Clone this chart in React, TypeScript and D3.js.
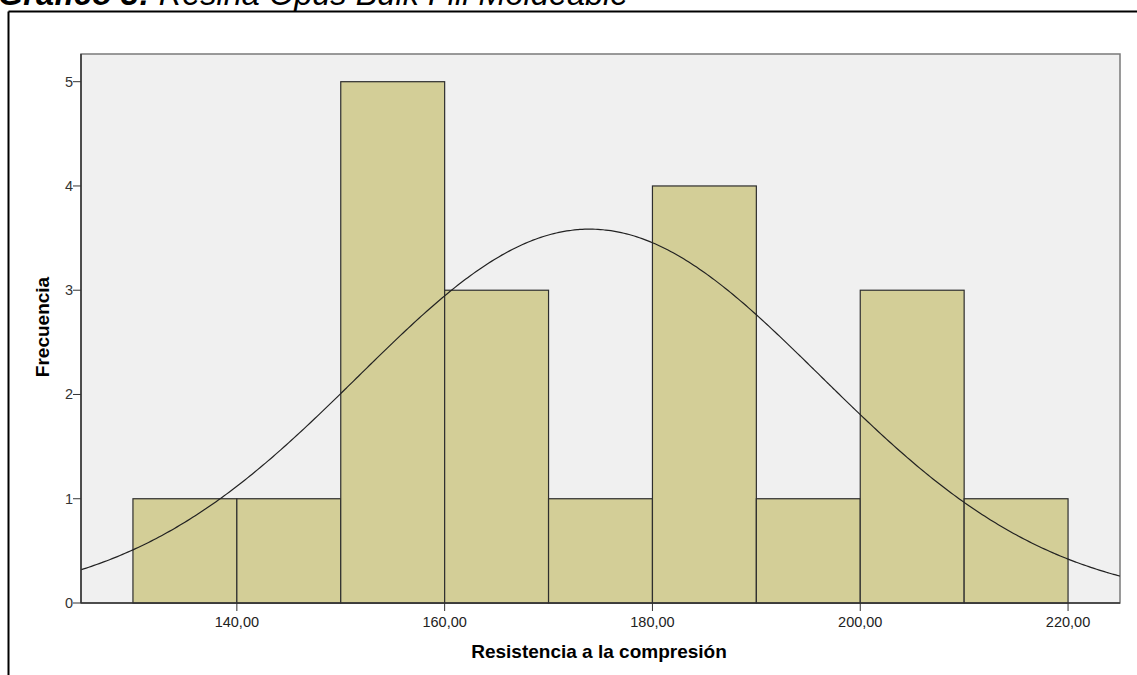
import React from "react";
import * as d3 from "d3";

const binStarts = [130, 140, 150, 160, 170, 180, 190, 200, 210];
const binWidth = 10;
const frequencies = [1, 1, 5, 3, 1, 4, 1, 3, 1];
const xTicks = [140, 160, 180, 200, 220];
const yTicks = [0, 1, 2, 3, 4, 5];
const normalMean = 173.95;
const normalSd = 22.25;
const totalN = 20;

const W = 1137;
const H = 675;
const plot = { left: 81, top: 54, right: 1120, bottom: 603 };

export default function App() {
  const x = d3.scaleLinear().domain([125, 225]).range([plot.left, plot.right]);
  const y = d3.scaleLinear().domain([0, 5]).range([plot.bottom, 81.7]);

  const curvePts: [number, number][] = [];
  for (let i = 0; i <= 400; i++) {
    const v = 125 + (i / 400) * 100;
    const dens =
      (totalN * binWidth) / (normalSd * Math.sqrt(2 * Math.PI)) *
      Math.exp(-((v - normalMean) ** 2) / (2 * normalSd * normalSd));
    curvePts.push([x(v), y(dens)]);
  }
  const line = d3.line<[number, number]>().x((d) => d[0]).y((d) => d[1]).curve(d3.curveBasis);

  const fmt = (v: number) => v.toFixed(2).replace(".", ",");

  return (
    <svg
      width={W}
      height={H}
      style={{ position: "absolute", left: 0, top: 0, background: "#fff" }}
      fontFamily="'Liberation Sans', Arial, sans-serif"
    >
      <text x={-2} y={4.5} fontSize={32.5} fontStyle="italic" fill="#000">
        <tspan fontWeight="bold">Gráfico 3:</tspan>
        <tspan> Resina Opus Bulk Fill Moldeable</tspan>
      </text>
      {/* outer frame */}
      <line x1={8.5} y1={11.5} x2={8.5} y2={H} stroke="#000" strokeWidth={2} />
      <line x1={8.5} y1={11.5} x2={W} y2={11.5} stroke="#000" strokeWidth={2} />

      {/* plot area */}
      <rect
        x={plot.left}
        y={plot.top}
        width={plot.right - plot.left}
        height={plot.bottom - plot.top}
        fill="#f0f0f0"
        stroke="#7a7a7a"
        strokeWidth={1.5}
      />
      <clipPath id="pc">
        <rect x={plot.left} y={plot.top} width={plot.right - plot.left} height={plot.bottom - plot.top} />
      </clipPath>

      {binStarts.map((b, i) => (
        <rect
          key={b}
          x={x(b)}
          y={y(frequencies[i])}
          width={x(b + binWidth) - x(b)}
          height={y(0) - y(frequencies[i])}
          fill="#d3ce97"
          stroke="#2e2e2e"
          strokeWidth={1.2}
        />
      ))}

      <path d={line(curvePts) || ""} fill="none" stroke="#222" strokeWidth={1.2} clipPath="url(#pc)" />

      {/* axes */}
      <line x1={plot.left} y1={plot.bottom} x2={plot.right} y2={plot.bottom} stroke="#333" strokeWidth={1.5} />
      <line x1={plot.left} y1={plot.top} x2={plot.left} y2={plot.bottom} stroke="#333" strokeWidth={1.5} />

      {yTicks.map((t) => (
        <g key={t}>
          <line x1={plot.left - 8} x2={plot.left} y1={y(t)} y2={y(t)} stroke="#333" strokeWidth={1} />
          <text x={plot.left - 8} y={y(t) + 5} fontSize={14.5} textAnchor="end" fill="#333">
            {t}
          </text>
        </g>
      ))}
      {xTicks.map((t) => (
        <g key={t}>
          <line x1={x(t)} x2={x(t)} y1={plot.bottom} y2={plot.bottom + 8} stroke="#333" strokeWidth={1} />
          <text x={x(t)} y={626.5} fontSize={14.5} textAnchor="middle" fill="#222">
            {fmt(t)}
          </text>
        </g>
      ))}

      <text x={599} y={658} fontSize={19} fontWeight="bold" textAnchor="middle" fill="#000">
        Resistencia a la compresión
      </text>
      <text
        transform={`translate(49,327) rotate(-90)`}
        fontSize={19}
        fontWeight="bold"
        textAnchor="middle"
        fill="#000"
      >
        Frecuencia
      </text>
    </svg>
  );
}
